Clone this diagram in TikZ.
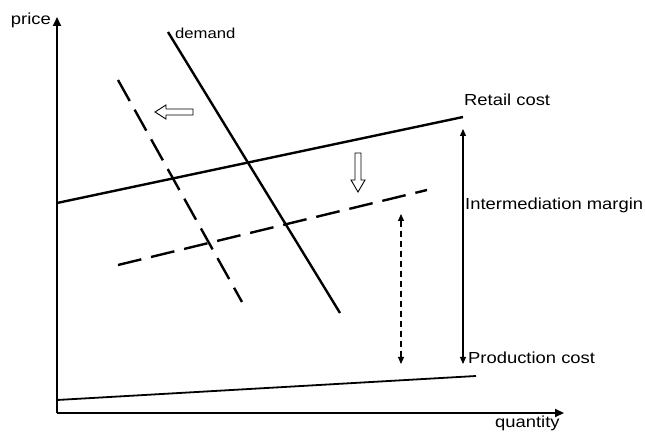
\documentclass[tikz,border=0pt]{standalone}
\usepackage{fontspec}
\setmainfont{Liberation Sans}[FakeStretch=1.15]
\usetikzlibrary{arrows.meta}
\begin{document}
\begin{tikzpicture}[x=1pt,y=-1pt,
  lbl/.style={font=\fontsize{16}{18}\selectfont, inner sep=0pt},
  thick line/.style={line width=2.4pt},
  long dash/.style={line width=2.4pt, dash pattern=on 24pt off 10pt},
  axis/.style={line width=2.2pt, -{Triangle[length=9pt,width=8pt]}},
  span/.style={line width=1.1pt, {Triangle[length=7pt,width=6pt]}-{Triangle[length=7pt,width=6pt]}},
  hollow/.style={line width=0.9pt, draw=black, fill=white}]
\useasboundingbox (0,0) rectangle (645,435);
% coordinates
\coordinate (O) at (57,413);
\coordinate (ytop) at (57,17);
\coordinate (xend) at (564,413);
\coordinate (d1) at (168,32);
\coordinate (d2) at (340,313);
\coordinate (dd1) at (118,80);
\coordinate (dd2) at (242,302);
\coordinate (r1) at (57,203);
\coordinate (r2) at (463,117);
\coordinate (s1) at (118,265);
\coordinate (s2) at (427,190);
\coordinate (p1) at (57,400);
\coordinate (p2) at (476,376);
\coordinate (m1) at (463,129);
\coordinate (m2) at (463,364);
\coordinate (n1) at (401,214);
\coordinate (n2) at (401,364);
% axes
\draw[axis] (O) -- (ytop);
\draw[axis] (O) -- (xend);
% labels
\node[lbl, anchor=east] (price) at (51,20) {price};
\node[lbl, anchor=north west] (qty) at (495,416) {quantity};
\node[lbl, anchor=west] (dem) at (175,33) {\fontsize{14.5}{17}\selectfont demand};
\node[lbl, anchor=west] (ret) at (464,100) {Retail cost};
\node[lbl, anchor=west] (mar) at (465,205) {Intermediation margin};
\node[lbl, anchor=west] (pro) at (468,358) {Production cost};
% curves
\draw[thick line] (d1) -- (d2);
\draw[long dash] (dd1) -- (dd2);
\draw[thick line] (r1) -- (r2);
\draw[long dash] (s1) -- (s2);
\draw[line width=1.8pt] (p1) -- (p2);
% spans
\draw[span] (m1) -- (m2);
\draw[span, dash pattern=on 6pt off 4pt] (n1) -- (n2);
% hollow arrows
\draw[hollow] (155,112) -- (166,105) -- (166,109) -- (193,109) -- (193,115) -- (166,115) -- (166,119) -- cycle;
\draw[hollow] (358,192) -- (351,180) -- (355,180) -- (355,153) -- (361,153) -- (361,180) -- (365,180) -- cycle;
\end{tikzpicture}
\end{document}
